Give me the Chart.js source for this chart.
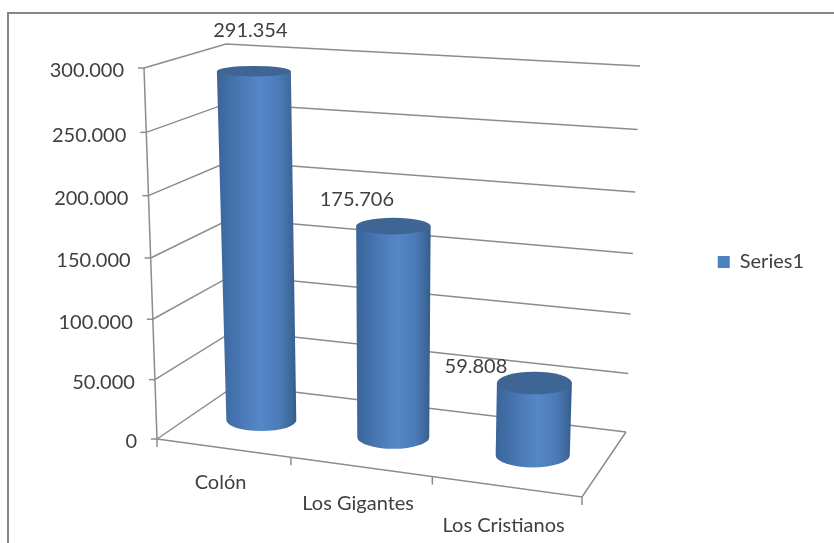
<!DOCTYPE html>
<html>
<head>
<meta charset="utf-8">
<style>
  html, body { margin: 0; background: #fff; }
  canvas { display: block; }
</style>
<script src="https://cdn.jsdelivr.net/npm/chart.js@4/dist/chart.umd.js"></script>
</head>
<body>
<canvas id="towns" width="834" height="543"></canvas>
<script>
var categories = ["Colón", "Los Gigantes", "Los Cristianos"];
var seriesName = "Series1";
var seriesValues = [291354, 175706, 59808];
var valueTicks = [0, 50000, 100000, 150000, 200000, 250000, 300000];

// corners of the 3d box as they land on the page
var floor = { fl: [157, 439], fr: [582, 497], bl: [236, 385], br: [626, 432] };
var roof = { fl: [144, 68], fr: [594, 102], bl: [226, 44], br: [640, 66] };
var lineColor = "#8c8c8c";
var textColor = "#404040";
var fontSpec = { family: "Lato", size: 20 };
var labelShift = [[-2, -41], [-35, -27], [-57, -16]];

function lerp(a, b, t) {
  return [a[0] + (b[0] - a[0]) * t, a[1] + (b[1] - a[1]) * t];
}

// u along categories, f up the value axis, z into the depth (0 is front)
function project(u, f, z) {
  var low = lerp(lerp(floor.fl, floor.fr, u), lerp(floor.bl, floor.br, u), z);
  var high = lerp(lerp(roof.fl, roof.fr, u), lerp(roof.bl, roof.br, u), z);
  return lerp(low, high, f);
}

function formatValue(v) {
  return String(v).replace(/\B(?=(\d{3})+$)/g, ".");
}

// perspective squeezes both axes a little
function warp(d, k) {
  return d * (1 + k) / (1 + k * d);
}

class SlantedValueScale extends Chart.LinearScale {
  getPixelForDecimal(d) {
    return super.getPixelForDecimal(warp(d, -0.047));
  }
  _computeLabelItems(area) {
    var scale = this;
    var items = super._computeLabelItems(area);
    items.forEach(function (item) {
      var t = item.options.translation;
      var f = (scale.bottom - t[1]) / scale.height;
      t[0] = project(0, f, 0)[0] - 20;
      t[1] += 3;
    });
    return items;
  }
}
SlantedValueScale.id = "slantedValue";

class SlantedCategoryScale extends Chart.CategoryScale {
  getPixelForDecimal(d) {
    return super.getPixelForDecimal(warp(d, -0.08));
  }
  // labels hang below the slanted floor edge, so no clipping to the axis box
  _computeLabelArea() {
    return undefined;
  }
  _computeLabelItems(area) {
    var scale = this;
    var items = super._computeLabelItems(area);
    items.forEach(function (item) {
      var t = item.options.translation;
      var u = (t[0] - scale.left) / scale.width;
      var p = project(u, 0, 0);
      t[0] = p[0] - 2.5;
      t[1] = p[1] + 21 + u * 7;
    });
    return items;
  }
}
SlantedCategoryScale.id = "slantedCategory";

class CylinderController extends Chart.BarController {
  draw() {
    var chart = this.chart;
    var ctx = chart.ctx;
    var area = chart.chartArea;
    var w = area.right - area.left;
    var h = area.bottom - area.top;
    this.getMeta().data.forEach(function (bar) {
      var u = (bar.x - area.left) / w;
      var f = (area.bottom - bar.y) / h;
      var du = bar.width / 2 / w * (1 + 0.09 * (u - 0.155));
      var dz = 0.196;
      var b = project(u, 0, 0.5);
      var t = project(u, f, 0.5);
      b[0] += 1.5;
      t[0] += 1.5;
      var rxB = (project(u + du, 0, 0.5)[0] - project(u - du, 0, 0.5)[0]) / 2;
      var rxT = (project(u + du, f, 0.5)[0] - project(u - du, f, 0.5)[0]) / 2;
      var ryB = Math.abs(project(u, 0, 0.5 + dz)[1] - project(u, 0, 0.5 - dz)[1]) / 2;
      var ryT = Math.abs(project(u, f, 0.5 + dz)[1] - project(u, f, 0.5 - dz)[1]) / 2;

      var left = Math.min(b[0] - rxB, t[0] - rxT);
      var right = Math.max(b[0] + rxB, t[0] + rxT);
      var side = ctx.createLinearGradient(left, 0, right, 0);
      side.addColorStop(0, "#3a659a");
      side.addColorStop(0.25, "#4775b0");
      side.addColorStop(0.55, "#5587c8");
      side.addColorStop(0.8, "#4a79b6");
      side.addColorStop(0.95, "#3c6698");
      side.addColorStop(1, "#345a88");

      ctx.save();
      ctx.beginPath();
      ctx.ellipse(b[0], b[1], rxB, ryB, 0, Math.PI, 0, true);
      ctx.lineTo(t[0] + rxT, t[1]);
      ctx.lineTo(t[0] - rxT, t[1]);
      ctx.closePath();
      ctx.fillStyle = side;
      ctx.fill();

      ctx.beginPath();
      ctx.ellipse(t[0], t[1], rxT, ryT, 0, 0, Math.PI * 2);
      ctx.fillStyle = "#3f6594";
      ctx.fill();
      ctx.restore();
    });
  }
}
CylinderController.id = "cylinder";

Chart.register(SlantedValueScale, SlantedCategoryScale, CylinderController);

function strokePath(ctx, pts) {
  ctx.beginPath();
  pts.forEach(function (p, i) {
    if (i === 0) ctx.moveTo(p[0], p[1]);
    else ctx.lineTo(p[0], p[1]);
  });
  ctx.stroke();
}

var frameAndWalls = {
  id: "frameAndWalls",
  beforeDraw: function (chart) {
    var ctx = chart.ctx;
    ctx.save();
    ctx.strokeStyle = "#868686";
    ctx.lineWidth = 2;
    strokePath(ctx, [[8, chart.height], [8, 13], [chart.width, 13]]);
    ctx.restore();
  },
  beforeDatasetsDraw: function (chart) {
    var ctx = chart.ctx;
    var area = chart.chartArea;
    var xs = chart.scales.x;
    var ys = chart.scales.y;
    ctx.save();
    ctx.strokeStyle = lineColor;
    ctx.lineWidth = 1.5;

    // walls, one line per tick, and the tick mark on the front axis
    valueTicks.forEach(function (v) {
      var f = (area.bottom - ys.getPixelForValue(v)) / (area.bottom - area.top);
      var front = project(0, f, 0);
      strokePath(ctx, [front, project(0, f, 1), project(1, f, 1)]);
      strokePath(ctx, [[front[0] - 6, front[1]], front]);
    });
    strokePath(ctx, [project(0, 0, 0), project(0, 1, 0)]);

    // floor front and right edges
    strokePath(ctx, [floor.fl, floor.fr, floor.br]);
    categories.concat([""]).forEach(function (c, i) {
      var u = (xs.getPixelForValue(i - 0.5) - area.left) / (area.right - area.left);
      var p = project(u, 0, 0);
      strokePath(ctx, [p, [p[0], p[1] + 8]]);
    });
    ctx.restore();
  },
  afterDatasetsDraw: function (chart) {
    var ctx = chart.ctx;
    var area = chart.chartArea;
    var w = area.right - area.left;
    var h = area.bottom - area.top;
    ctx.save();
    ctx.font = fontSpec.size + "px " + fontSpec.family;
    ctx.fillStyle = textColor;
    ctx.textAlign = "center";
    ctx.textBaseline = "middle";
    chart.getDatasetMeta(0).data.forEach(function (bar, i) {
      var p = project((bar.x - area.left) / w, (area.bottom - bar.y) / h, 0.5);
      ctx.fillText(formatValue(seriesValues[i]), p[0] + labelShift[i][0], p[1] + labelShift[i][1]);
    });
    ctx.restore();
  }
};

new Chart(document.getElementById("towns"), {
  type: "cylinder",
  data: {
    labels: categories,
    datasets: [{
      label: seriesName,
      data: seriesValues,
      backgroundColor: "#4f81bd",
      borderWidth: 0,
      categoryPercentage: 1,
      barPercentage: 0.53,
      clip: false
    }]
  },
  options: {
    responsive: false,
    animation: false,
    layout: { padding: { top: 68, bottom: 87, left: 0, right: 20 } },
    scales: {
      x: {
        type: "slantedCategory",
        offset: true,
        grid: { display: false },
        border: { display: false },
        ticks: { color: textColor, font: fontSpec, autoSkip: false, maxRotation: 0, minRotation: 0 },
        afterFit: function (s) { s.height = 17; s.paddingRight = 0; s.paddingLeft = 0; }
      },
      y: {
        type: "slantedValue",
        min: 0,
        max: 300000,
        grid: { display: false },
        border: { display: false },
        ticks: { color: textColor, font: fontSpec, callback: formatValue },
        afterBuildTicks: function (s) {
          s.ticks = valueTicks.map(function (v) { return { value: v }; });
        },
        afterFit: function (s) { s.width = 157; s.paddingTop = 0; s.paddingBottom = 0; }
      }
    },
    plugins: {
      legend: {
        position: "right",
        labels: { color: textColor, font: fontSpec, boxWidth: 12, boxHeight: 12, padding: 23 }
      },
      tooltip: { enabled: false }
    }
  },
  plugins: [frameAndWalls]
});
</script>
</body>
</html>
